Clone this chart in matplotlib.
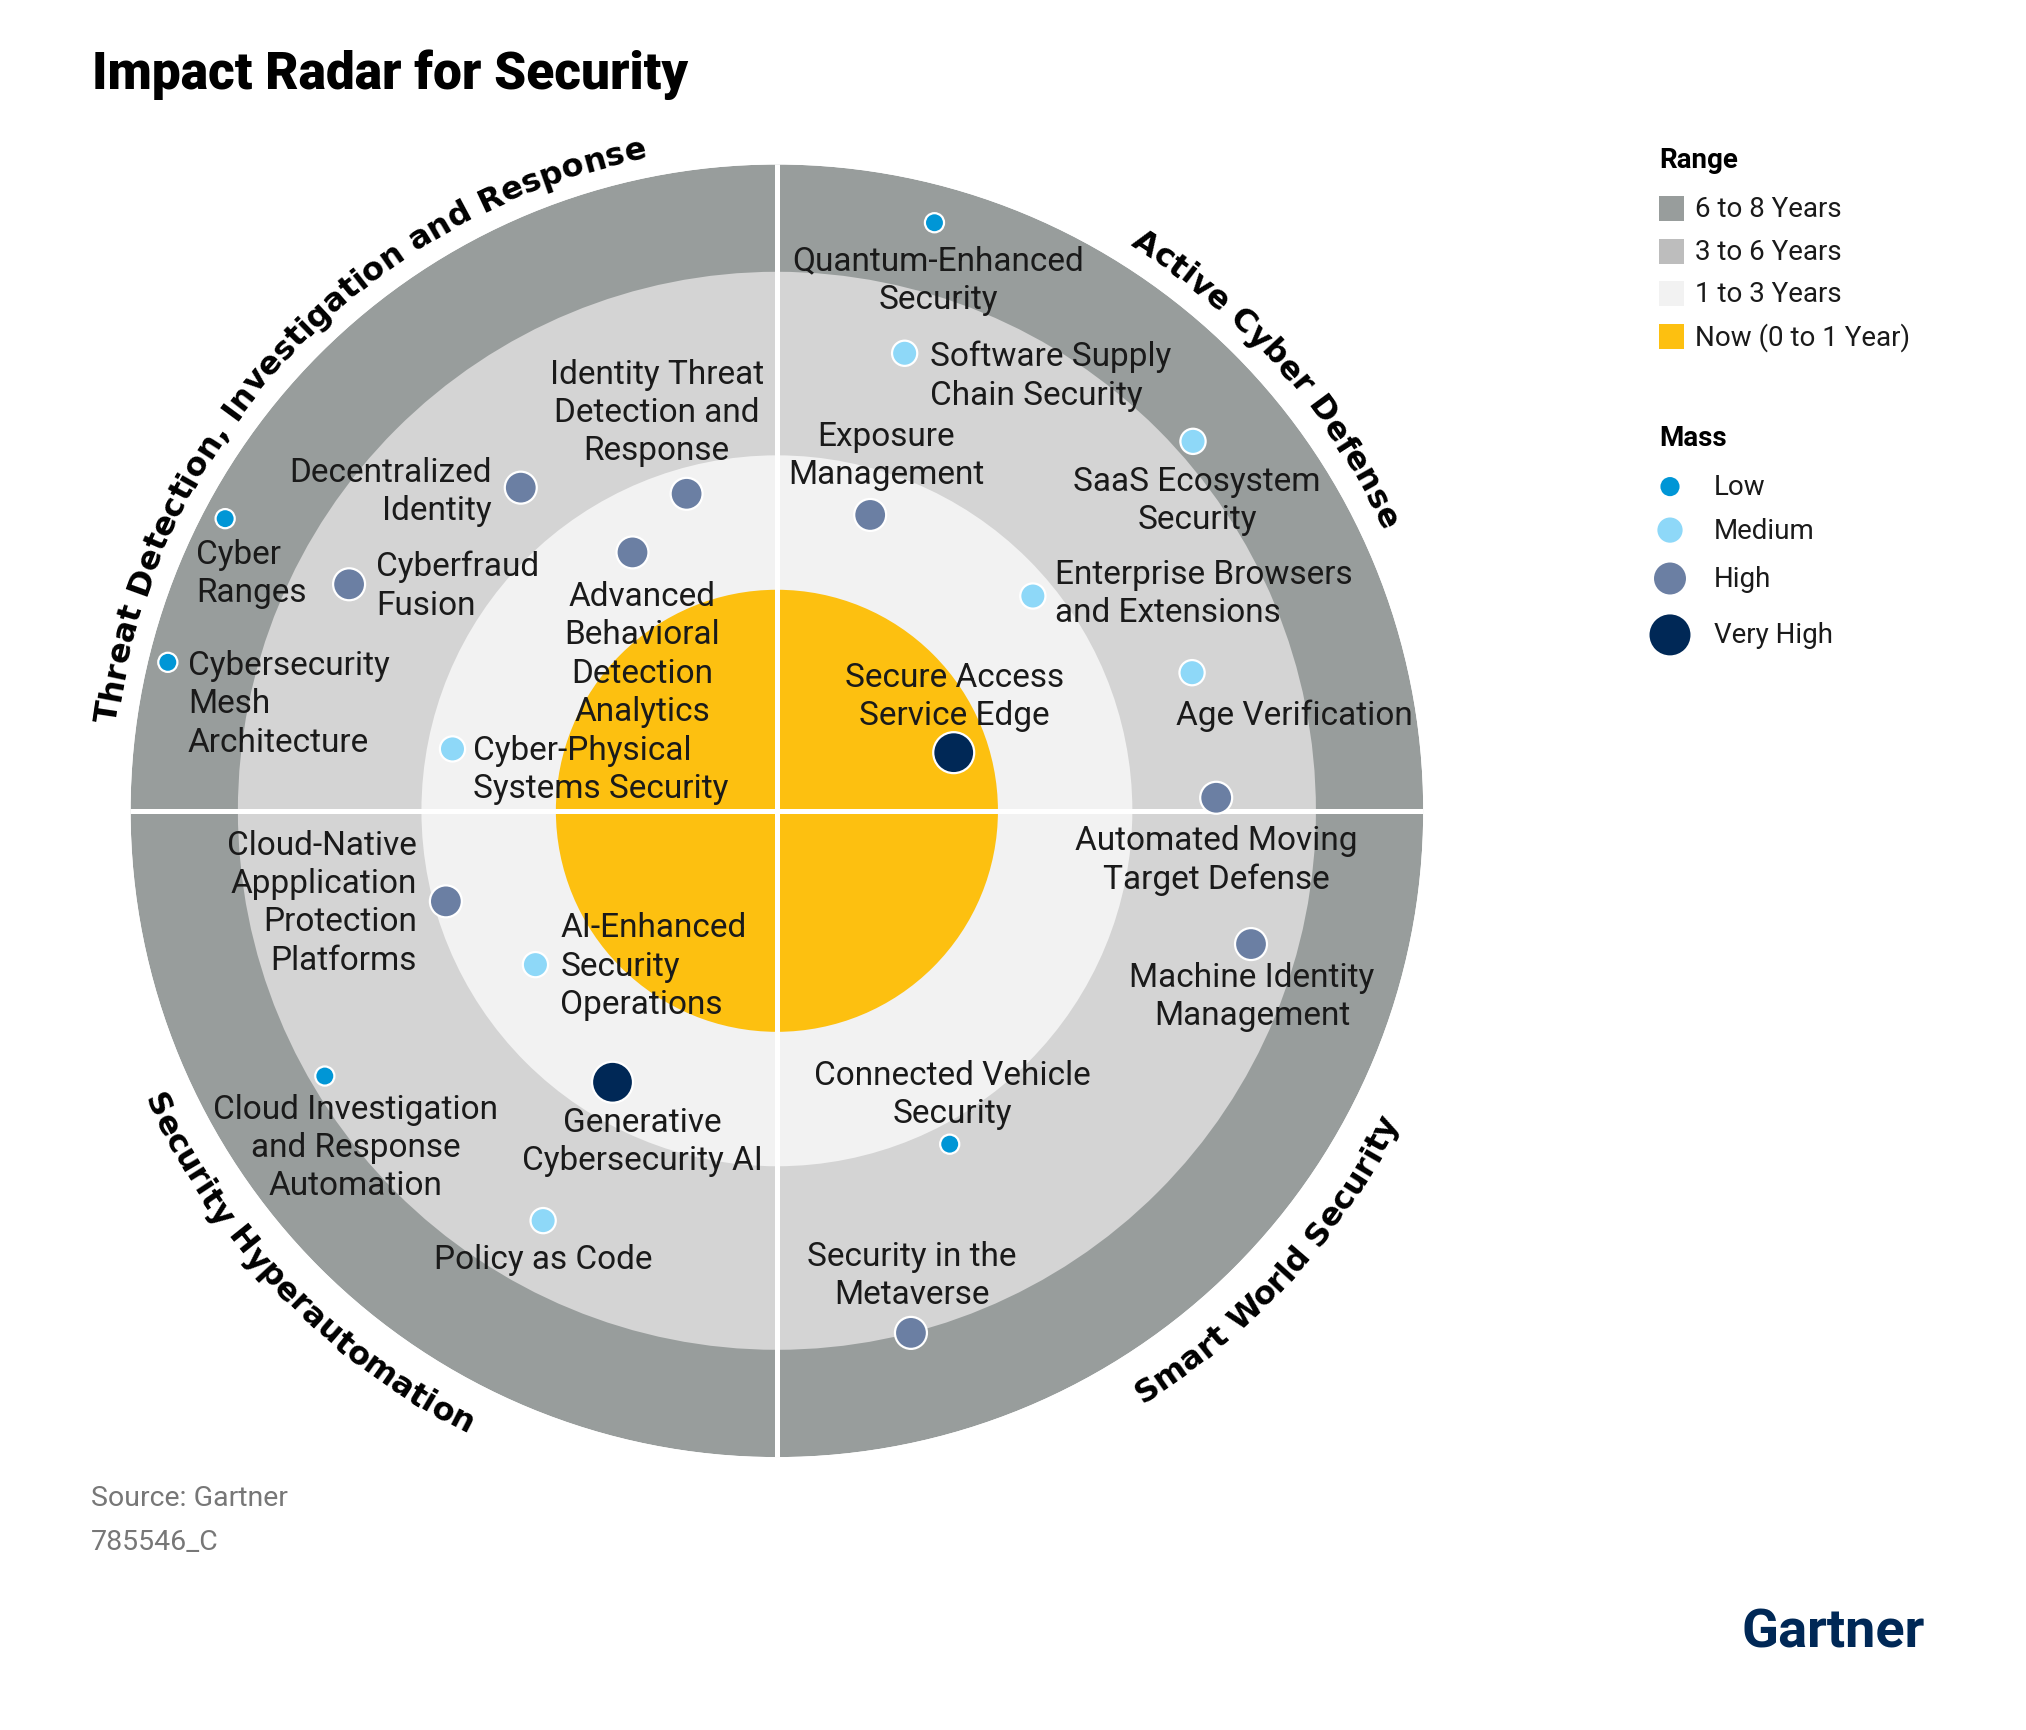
import numpy as np
import matplotlib
matplotlib.use('Agg')
import matplotlib.pyplot as plt
from matplotlib.font_manager import FontProperties
from matplotlib.patches import Rectangle

W, H = 2026, 1731

# technologies on the radar: angle (deg, 0 = east, ccw), distance (1 = outer edge), mass
names = [
    'Quantum-Enhanced\nSecurity',
    'Software Supply\nChain Security',
    'Exposure\nManagement',
    'SaaS Ecosystem\nSecurity',
    'Enterprise Browsers\nand Extensions',
    'Secure Access\nService Edge',
    'Age Verification',
    'Automated Moving\nTarget Defense',
    'Machine Identity\nManagement',
    'Connected Vehicle\nSecurity',
    'Security in the\nMetaverse',
    'Generative\nCybersecurity AI',
    'Policy as Code',
    'Cloud Investigation\nand Response\nAutomation',
    'AI-Enhanced\nSecurity\nOperations',
    'Cloud-Native\nAppplication\nProtection\nPlatforms',
    'Cyber-Physical\nSystems Security',
    'Advanced\nBehavioral\nDetection\nAnalytics',
    'Identity Threat\nDetection and\nResponse',
    'Decentralized\nIdentity',
    'Cyberfraud\nFusion',
    'Cyber\nRanges',
    'Cybersecurity\nMesh\nArchitecture',
]
angles = [75.0, 74.4, 72.5, 41.6, 40.0, 18.2, 18.4, 1.7, 344.3, 297.4, 284.4,
          238.8, 240.3, 210.4, 212.5, 195.3, 169.2, 119.2, 105.9, 128.4, 152.1,
          152.1, 166.3]
radii = [0.942, 0.735, 0.480, 0.861, 0.517, 0.288, 0.677, 0.680, 0.762, 0.581,
         0.834, 0.491, 0.730, 0.811, 0.443, 0.531, 0.511, 0.458, 0.510, 0.638,
         0.749, 0.966, 0.970]
mass = ['Low', 'Medium', 'High', 'Medium', 'Medium', 'Very High', 'Medium',
        'High', 'High', 'Low', 'High', 'Very High', 'Medium', 'Low', 'Medium',
        'High', 'Medium', 'High', 'High', 'High', 'High', 'Low', 'Low']

# label placement relative to the dot: offset in pixels and alignment
label_pos = [(4, -57, 'center'), (25, -22, 'left'), (16, 60, 'center'),
             (4, -59, 'center'), (22, 3, 'left'), (1, 57, 'center'),
             (-16, -42, 'left'), (0, -62, 'center'), (1, -52, 'center'),
             (3, 50, 'center'), (1, 58, 'center'), (30, -59, 'center'),
             (0, -38, 'center'), (31, -71, 'center'), (25, -1, 'left'),
             (-29, -1, 'right'), (21, -20, 'left'), (10, -101, 'center'),
             (-30, 82, 'center'), (-29, -3, 'right'), (27, -1, 'left'),
             (-29, -54, 'left'), (20, -41, 'left')]

ring_labels = ['6 to 8 Years', '3 to 6 Years', '1 to 3 Years', 'Now (0 to 1 Year)']
ring_outer = [1.0, 0.834, 0.55, 0.342]
ring_colors = ['#989D9C', '#D4D4D4', '#F2F2F2', '#FDC010']
legend_sq_colors = ['#989D9C', '#BDBDBD', '#F2F2F2', '#FDC010']

mass_levels = ['Low', 'Medium', 'High', 'Very High']
mass_colors = {'Low': '#0096D6', 'Medium': '#8ED8F8', 'High': '#6B7FA3', 'Very High': '#002856'}
mass_sizes = {'Low': 190, 'Medium': 330, 'High': 530, 'Very High': 870}

themes = ['Active Cyber Defense', 'Threat Detection, Investigation and Response',
          'Security Hyperautomation', 'Smart World Security']
theme_angle = [41.5, 136.8, 224.0, 317.6]

fig = plt.figure(figsize=(W / 100, H / 100), dpi=100)
fig.patch.set_facecolor('white')

# radar
cx, cy, R = 776.9, 811.8, 646.3
ax = fig.add_axes([(cx - R) / W, (H - cy - R) / H, 2 * R / W, 2 * R / H], projection='polar')
ax.set_ylim(0, 1)
ax.axis('off')

quad = np.radians([45, 135, 225, 315])
for r_out, c in zip(ring_outer, ring_colors):
    ax.bar(quad, r_out, width=np.pi / 2, bottom=0, color=c, linewidth=0, zorder=1)

for a in [0, 90, 180, 270]:
    ax.plot([np.radians(a), np.radians(a)], [0, 1], color='white', lw=3.6, zorder=2)

th = np.radians(angles)
ax.scatter(th, radii, s=[mass_sizes[m] for m in mass], c=[mass_colors[m] for m in mass],
           edgecolors='white', linewidths=1.6, zorder=4)

for t, r, name, (dx, dy, ha) in zip(th, radii, names, label_pos):
    ax.annotate(name, xy=(t, r), xytext=(dx, dy), textcoords='offset pixels',
                ha=ha, va='center', multialignment=ha, fontsize=24, family='Roboto',
                color='#1a1a1a', linespacing=1.25, zorder=5)

# curved theme names around the circle
renderer = fig.canvas.get_renderer()
fp = FontProperties(family='DejaVu Sans', weight='bold', size=23)


def wid(s):
    return renderer.get_text_width_height_descent(s, fp, ismath=False)[0]


def arc_text(text, center_deg, upper):
    ref = wid('x')
    total = wid(text + 'x') - ref
    cap = fp.get_size_in_points() * 100 / 72 * 0.73
    if upper:
        r_base = 1.050 - cap / 2 / R
    else:
        r_base = 1.058 + cap / 2 / R
    r_px = R * r_base
    for i, ch in enumerate(text):
        if ch == ' ':
            continue
        left = wid(text[:i] + 'x') - ref if i > 0 else 0
        right = wid(text[:i + 1] + 'x') - ref
        c = (left + right) / 2
        off = np.degrees((total / 2 - c) / r_px)
        if upper:
            a = center_deg + off
            rot = a - 90
        else:
            a = center_deg - off
            rot = a + 90
        ax.text(np.radians(a), r_base, ch, rotation=rot, rotation_mode='anchor',
                ha='center', va='baseline', fontproperties=fp, color='black',
                clip_on=False, zorder=6)


for name, a in zip(themes, theme_angle):
    arc_text(name, a, upper=(0 < a < 180))

# overlay for title, legend and footer
ov = fig.add_axes([0, 0, 1, 1])
ov.set_xlim(0, W)
ov.set_ylim(H, 0)
ov.axis('off')

ov.text(92, 75, 'Impact Radar for Security', fontsize=37, fontweight='black',
        family='Roboto', va='center', ha='left', color='black')

ov.text(1659, 161, 'Range', fontsize=20, fontweight='bold', family='Roboto', va='center')
for i, (lab, c) in enumerate(zip(ring_labels, legend_sq_colors)):
    y = 209.5 + i * 42.6
    ov.add_patch(Rectangle((1659, y - 12.5), 25, 25, facecolor=c, edgecolor='none'))
    ov.text(1695, y, lab, fontsize=20, family='Roboto', va='center', color='#1a1a1a')

ov.text(1659, 439, 'Mass', fontsize=20, fontweight='bold', family='Roboto', va='center')
mass_y = [487.6, 531.1, 579.5, 635.9]
for lev, y in zip(mass_levels, mass_y):
    ov.scatter([1670], [y], s=mass_sizes[lev], c=mass_colors[lev], edgecolors='none')
    ov.text(1714, y, lev, fontsize=20, family='Roboto', va='center', color='#1a1a1a')

ov.text(91, 1499, 'Source: Gartner', fontsize=20.5, family='Roboto', va='center', color='#777777')
ov.text(91, 1543, '785546_C', fontsize=20.5, family='Roboto', va='center', color='#777777')
ov.text(1741, 1633, 'Gartner', fontsize=39, fontweight='bold', family='Roboto',
        va='center', ha='left', color='#002856')

fig.savefig('out.png', dpi=100, facecolor='white')
